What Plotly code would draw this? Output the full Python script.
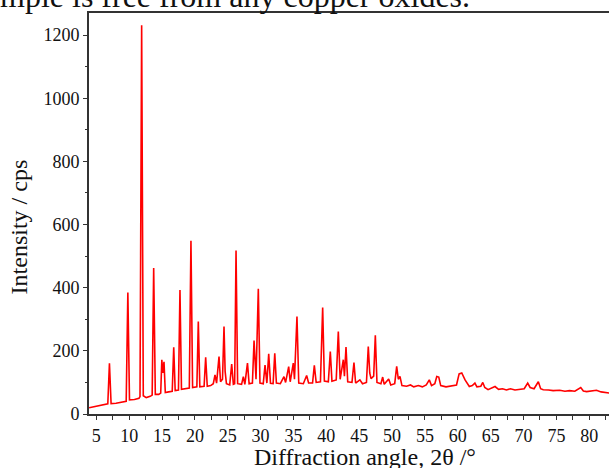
import plotly.graph_objects as go

# Diffraction pattern (2-theta in degrees, intensity in cps)
two_theta = [
    3.9, 4.5, 5.5, 6.3, 6.75, 7.0, 7.25, 8.0, 9.0, 9.55, 9.8, 10.05, 10.8, 11.5, 11.65, 11.9, 12.15,
    12.6, 13.2, 13.5, 13.73, 13.98, 14.5, 14.8, 14.97, 15.12, 15.3, 15.5, 16.0, 16.55, 16.78, 17.0,
    17.5, 17.73, 17.96, 18.6, 19.15, 19.4, 19.65, 20.3, 20.52, 20.75, 21.4, 21.64, 21.88, 22.4, 22.8,
    23.06, 23.3, 23.67, 23.9, 24.2, 24.43, 24.6, 24.8, 25.3, 25.6, 25.85, 26.05, 26.26, 26.5, 27.1,
    27.37, 27.6, 28.0, 28.25, 28.75, 29.0, 29.3, 29.65, 29.9, 30.4, 30.67, 30.95, 31.23, 31.5, 31.9,
    32.15, 32.4, 33.0, 33.55, 33.8, 34.27, 34.5, 34.97, 35.15, 35.53, 35.8, 36.5, 37.0, 37.3, 37.9,
    38.17, 38.45, 39.1, 39.44, 39.7, 40.3, 40.6, 40.85, 41.5, 41.82, 42.1, 42.58, 42.75, 42.99, 43.25,
    43.9, 44.2, 44.45, 45.1, 45.5, 46.1, 46.38, 46.6, 46.8, 47.2, 47.45, 47.7, 48.3, 48.57, 48.8, 49.48,
    49.8, 50.4, 50.7, 50.95, 51.2, 51.5, 52.2, 52.8, 53.3, 54.0, 54.6, 55.2, 55.66, 56.0, 56.5, 56.8,
    57.1, 57.4, 58.2, 59.0, 59.8, 60.2, 60.6, 61.1, 61.75, 62.2, 62.6, 62.9, 63.5, 63.8, 64.1, 64.6,
    65.1, 65.66, 66.2, 66.8, 67.4, 68.0, 68.7, 69.4, 70.1, 70.63, 71.0, 71.6, 72.25, 72.6, 73.0, 73.8,
    74.5, 75.5, 76.3, 77.0, 77.8, 78.7, 79.1, 79.6, 80.4, 81.1, 81.8, 82.5, 83.2,
]
intensity = [
    20, 22, 26, 29, 32, 161, 33, 34, 37, 40, 385, 45, 46, 50, 55, 1231, 58,
    52, 56, 60, 462, 62, 62, 66, 172, 130, 165, 68, 70, 72, 211, 74,
    76, 393, 78, 80, 82, 549, 84, 86, 293, 86, 88, 180, 88, 90, 96,
    124, 98, 182, 102, 110, 277, 135, 96, 92, 158, 94, 96, 518, 96, 94,
    118, 94, 161, 96, 98, 233, 110, 397, 98, 96, 155, 98, 191, 97, 96,
    192, 98, 96, 118, 100, 150, 102, 161, 110, 309, 98, 96, 122, 98, 98,
    154, 100, 102, 337, 104, 102, 198, 104, 108, 261, 110, 172, 120, 212, 102,
    100, 163, 98, 108, 96, 100, 214, 130, 112, 120, 249, 100, 96, 117, 94, 111,
    92, 96, 151, 110, 119, 90, 88, 92, 86, 90, 86, 92, 108, 90, 96, 119,
    117, 90, 86, 88, 92, 127, 130, 108, 87, 90, 98, 86, 88, 100, 84, 77,
    82, 87, 78, 80, 76, 80, 76, 78, 80, 98, 84, 80, 102, 80, 77, 76,
    74, 75, 72, 74, 72, 84, 73, 71, 72, 75, 70, 68, 66,
]

x_tick_vals = [5, 10, 15, 20, 25, 30, 35, 40, 45, 50, 55, 60, 65, 70, 75, 80]
y_tick_vals = [0, 200, 400, 600, 800, 1000, 1200]

serif = "Liberation Serif"

fig = go.Figure()
fig.add_trace(go.Scatter(
    x=two_theta, y=intensity, mode="lines",
    line=dict(color="rgb(255,0,0)", width=1.6),
    showlegend=False, hoverinfo="skip",
))

axis_line = "#333333"
fig.update_layout(
    width=609, height=468,
    margin=dict(l=89, r=0, t=13, b=54, pad=0, autoexpand=False),
    paper_bgcolor="white", plot_bgcolor="white",
    font=dict(family=serif, size=18, color="#111111"),
    xaxis=dict(
        range=[3.89, 83.0], tickvals=x_tick_vals, ticktext=[str(v) for v in x_tick_vals],
        automargin=False,
        showgrid=False, zeroline=False, showline=True, linecolor=axis_line, linewidth=1.8,
        mirror=True, ticks="outside", ticklen=4, tickwidth=1.3, tickcolor=axis_line,
        minor=dict(dtick=2.5, tick0=0, ticks="outside", ticklen=4, tickwidth=1.3, tickcolor=axis_line, showgrid=False),
        tickfont=dict(family=serif, size=18, color="#111111"),
    ),
    yaxis=dict(
        range=[0, 1270], tickvals=y_tick_vals, ticktext=[str(v) for v in y_tick_vals],
        automargin=False,
        showgrid=False, zeroline=False, showline=True, linecolor=axis_line, linewidth=1.8,
        mirror=False, ticks="outside", ticklen=4, tickwidth=1.3, tickcolor=axis_line,
        minor=dict(dtick=100, tick0=0, ticks="outside", ticklen=2.5, tickwidth=1.3, tickcolor=axis_line, showgrid=False),
        tickfont=dict(family=serif, size=18, color="#111111"),
    ),
    annotations=[
        dict(text="Diffraction angle, 2θ /°", xref="paper", yref="paper",
             x=0.5308, y=-0.106, xanchor="center", yanchor="middle", showarrow=False,
             font=dict(family=serif, size=24, color="#111111")),
        dict(text="Intensity / cps", xref="paper", yref="paper", textangle=-90,
             x=-0.1329, y=0.4676, xanchor="center", yanchor="middle", showarrow=False,
             font=dict(family=serif, size=24, color="#111111")),
        dict(text="mple is free from any copper oxides.", xref="paper", yref="paper",
             x=-0.175, y=1.0429, xanchor="left", yanchor="middle", showarrow=False,
             font=dict(family=serif, size=32, color="#111111")),
    ],
)

fig.write_html(
    "out.html",
    config={"displayModeBar": False},
    post_script="document.body.style.margin='0';document.body.style.overflow='hidden';",
)
